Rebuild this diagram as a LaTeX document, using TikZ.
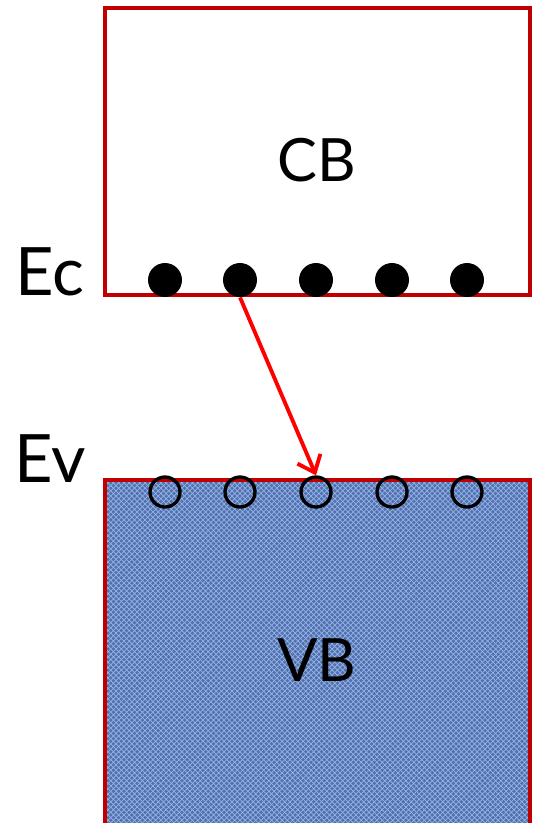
\documentclass[tikz,border=0pt]{standalone}
\usepackage{fontspec}
\setmainfont{Lato}
\usetikzlibrary{arrows.meta,patterns}
\definecolor{bandred}{RGB}{192,0,0}
\definecolor{vbblue}{RGB}{80,112,176}
\definecolor{vblight}{RGB}{150,180,228}

\begin{document}
\begin{tikzpicture}[
		x=0.02cm, y=-0.02cm,
		electron/.style={circle, fill=black, minimum size=0.68cm, inner sep=0pt},
		hole/.style={circle, draw=black, line width=1.9pt, minimum size=0.6cm, inner sep=0pt},
		bandname/.style={font=\fontsize{34}{38}\selectfont},
		levelname/.style={font=\fontsize{38}{42}\selectfont, anchor=base}
	]
  \useasboundingbox (0,0) rectangle (533,823);
  % valence band, textured
  \fill [vbblue] (105,480) rectangle (530,823);
  \fill [pattern=crosshatch, pattern color=vblight] (105,480) rectangle (530,823);
  \draw [bandred, line width=2.3pt] (105,823) -- (105,480) -- (530,480) -- (530,823);
  % conduction band
  \draw [bandred, line width=2.3pt] (105,8) rectangle (530,295);
  \node (cb) [bandname] at (317,160) {CB};
  \node (vb) [bandname] at (317,660) {VB};
  \node (ec) [levelname] at (50,295) {E\kern-1pt c};
  \node (ev) [levelname] at (50,482) {E\kern-1pt v};
  \foreach \i/\x in {1/165, 2/240, 3/316, 4/392, 5/467} {
    \node (e\i) [electron] at (\x,280) {};
    \node (h\i) [hole] at (\x,492) {};
  }
  \draw [red, line width=2.2pt, -{Straight Barb[length=3mm, width=5mm]}] (e2.south) -- (h3.north);
\end{tikzpicture}
\end{document}
